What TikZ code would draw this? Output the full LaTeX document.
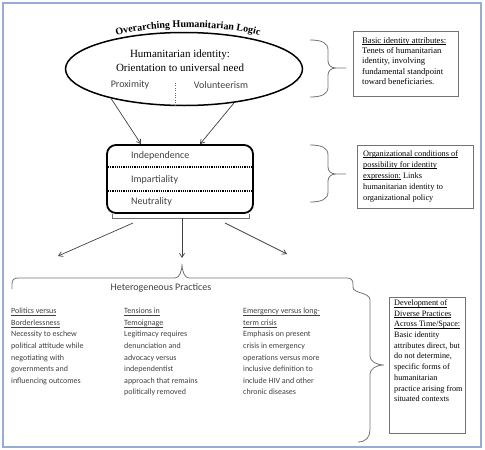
\documentclass[tikz,border=0pt]{standalone}
\usepackage{fontspec}
\setmainfont{Liberation Serif}
\newfontfamily\calibri{Carlito}
\usetikzlibrary{shapes.geometric,arrows.meta,decorations.text}

\definecolor{framecol}{RGB}{150,172,212}
\definecolor{textgray}{RGB}{64,64,64}
\newcommand{\ulx}[1]{\underline{\raisebox{0pt}[\height][0pt]{#1}}}

\tikzset{
  arr/.style={draw=black!75, line width=0.7pt, -{Straight Barb[length=4pt,width=5pt]}},
  brc/.style={draw=black!55, line width=0.8pt},
  notebox/.style={draw=black!55, line width=0.6pt, anchor=north west, inner sep=0pt},
  notetext/.style={anchor=north west, align=left, inner sep=0pt},
  practice/.style={anchor=north west, align=left, inner sep=0pt, text=textgray,
    font=\calibri\fontsize{8}{11.6}\selectfont},
  attr/.style={text=textgray, inner sep=1pt, font=\calibri\fontsize{10}{12}\selectfont}
}

\begin{document}
\begin{tikzpicture}[x=1pt, y=-1pt]
  \useasboundingbox (0,0) rectangle (485,450);
  \draw[framecol, line width=1.2pt] (3,3) rectangle (481,447);

  % identity
  \node[ellipse, draw, line width=1.5pt, minimum width=237pt, minimum height=73pt] (ident) at (184,69) {};
  \path[decorate, decoration={text along path, text align=center,
      text={|\bfseries\fontsize{10}{12}\selectfont|Overarching Humanitarian Logic}}]
    (108,38) .. controls (150,24) and (225,24) .. (268,38);
  \node[align=center, font=\fontsize{11}{14}\selectfont] (identtxt) at (180,61) {Humanitarian identity:\\Orientation to universal need};
  \node[attr] (prox) at (130,85) {Proximity};
  \node[attr] (vol) at (221,85) {Volunteerism};
  \draw[black!60, dotted] (175,83) -- (175,105);

  % principles
  \node[draw, rounded corners=9pt, line width=1.8pt, minimum width=146pt, minimum height=68pt] (prin) at (180,179) {};
  \foreach \y in {167,191}
    \draw[densely dotted, line width=1.2pt] (108,\y) -- (252,\y);
  \foreach \nm/\y/\t in {indep/156/Independence, impart/180/Impartiality, neutr/202/Neutrality}
    \node[attr, anchor=west] (\nm) at (130,\y) {\t};

  \draw[arr] (ident.202) -- ([xshift=-39pt]prin.north);
  \draw[arr] (ident.326) -- ([xshift=20pt]prin.north);

  % fork to practices
  \draw[brc] (112,214) -- (112,218) -- (249,218) -- (249,214);
  \coordinate (fork) at (182,218);
  \coordinate (forkl) at (133,223);
  \coordinate (forkr) at (225,223);
  \coordinate (tl) at (58,256);
  \coordinate (tc) at (182,258);
  \coordinate (tr) at (287,254);
  \draw[arr] (fork) -- (tc);
  \draw[arr] (forkl) -- (tl);
  \draw[arr] (forkr) -- (tr);

  % practices brace
  \draw[brc] (12,289) -- (12,284) .. controls (12,280) and (14,278) .. (18,278) -- (175,278)
    .. controls (179,278) and (182,272) .. (182,264) .. controls (182,272) and (185,278) .. (189,278)
    -- (347,278) .. controls (351,278) and (353,280) .. (353,284) -- (353,287)
    .. controls (353,294) and (370,292) .. (370,300) -- (370,356)
    .. controls (370,361) and (376,365) .. (384,365) .. controls (376,365) and (370,369) .. (370,374)
    -- (370,430) .. controls (370,437) and (366,442) .. (358,442);
  \node[attr] (hetero) at (161,288) {Heterogeneous Practices};

  \node[practice] (polit) at (11,308) {\ulx{Politics versus}\\\ulx{Borderlessness}\\Necessity to eschew\\political attitude while\\negotiating with\\governments and\\influencing outcomes};
  \node[practice] (temo) at (124,308) {\ulx{Tensions in}\\\ulx{Temoignage}\\Legitimacy requires\\denunciation and\\advocacy versus\\independentist\\approach that remains\\politically removed};
  \node[practice] (emerg) at (243,308) {\ulx{Emergency versus long-}\\\ulx{term crisis}\\Emphasis on present\\crisis in emergency\\operations versus more\\inclusive definition to\\include HIV and other\\chronic diseases};

  % side braces
  \foreach \yt/\ym/\yb in {40/68/97, 145/174/202}
    \draw[brc] (310,\yt) .. controls (322,\yt) and (328,\yt+3) .. (328,\yt+10) -- (328,\ym-7)
      .. controls (328,\ym-3) and (331,\ym) .. (336,\ym) .. controls (331,\ym) and (328,\ym+3) .. (328,\ym+7)
      -- (328,\yb-10) .. controls (328,\yb-3) and (322,\yb) .. (310,\yb)
      (336,\ym) -- (346,\ym);

  % notes
  \node[notebox, minimum width=105pt, minimum height=65pt] (basic) at (353,31) {};
  \node[notetext, font=\fontsize{8.6}{10.4}\selectfont] (basictxt) at ([xshift=9pt,yshift=-6pt]basic.north west)
    {\ulx{Basic identity attributes:}\\Tenets of humanitarian\\identity, involving\\fundamental standpoint\\toward beneficiaries.};
  \node[notebox, minimum width=116pt, minimum height=63pt] (orgcond) at (357,145) {};
  \node[notetext, font=\fontsize{8.3}{11}\selectfont] (orgcondtxt) at ([xshift=6pt,yshift=-5pt]orgcond.north west)
    {\ulx{Organizational conditions of}\\\ulx{possibility for identity}\\\ulx{expression:} Links\\humanitarian identity to\\organizational policy};
  \node[notebox, minimum width=76pt, minimum height=136pt] (develop) at (389,297) {};
  \node[notetext, font=\fontsize{8.2}{10.7}\selectfont] (developtxt) at ([xshift=5pt,yshift=-2.5pt]develop.north west)
    {\ulx{Development of}\\\ulx{Diverse Practices}\\\ulx{Across Time/Space:}\\Basic identity\\attributes direct, but\\do not determine,\\specific forms of\\humanitarian\\practice arising from\\situated contexts};
\end{tikzpicture}
\end{document}
